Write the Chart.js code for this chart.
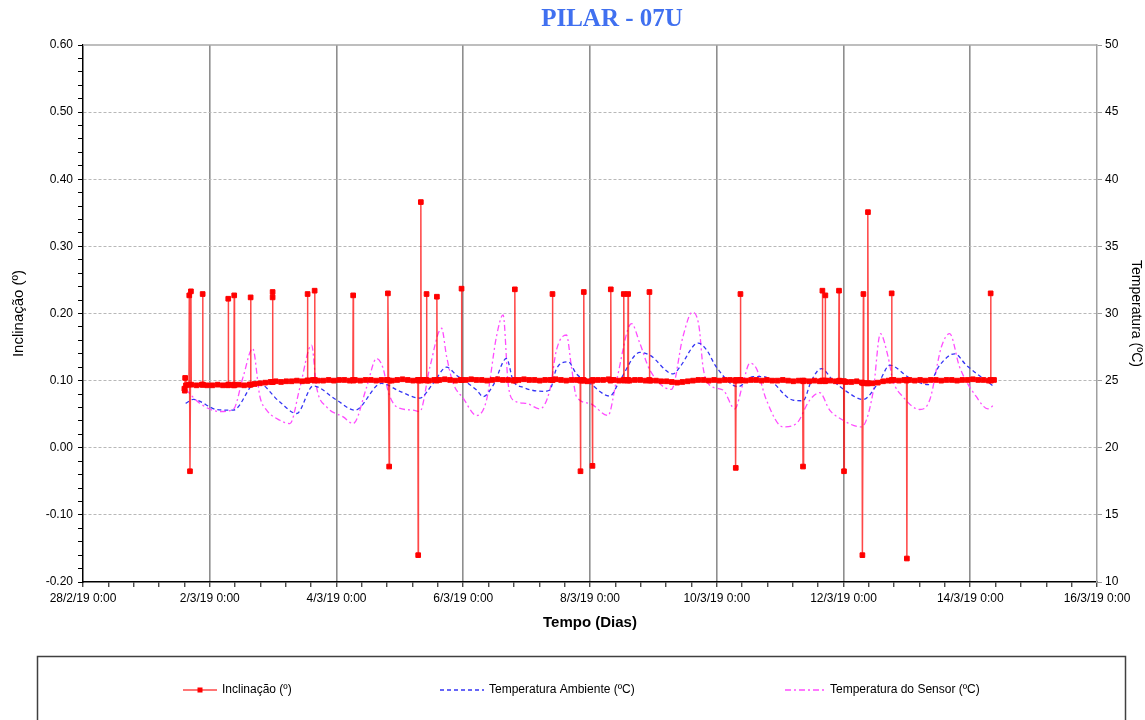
<!DOCTYPE html>
<html>
<head>
<meta charset="utf-8">
<title>PILAR - 07U</title>
<script src="https://cdn.jsdelivr.net/npm/chart.js@4.4.0/dist/chart.umd.min.js"></script>
<style>
  html, body { margin: 0; padding: 0; background: #fff; }
  #chart { display: block; }
</style>
</head>
<body>
<canvas id="chart" width="1145" height="720"></canvas>
<script>
// x values are days since 28/2/19 0:00
const xTickLabels = ['28/2/19 0:00', '2/3/19 0:00', '4/3/19 0:00', '6/3/19 0:00', '8/3/19 0:00',
  '10/3/19 0:00', '12/3/19 0:00', '14/3/19 0:00', '16/3/19 0:00'];

// Inclinação: regular readings every 2 h starting at day 1.625
const incStart = 1.625;
const incStep = 1 / 12;
const incBase = [
  0.093, 0.094, 0.093, 0.094, 0.093, 0.093, 0.094, 0.093, 0.094, 0.093, 0.094, 0.093, 0.094, 0.095,
  0.096, 0.097, 0.098, 0.099, 0.098, 0.099, 0.099, 0.100, 0.099,
  0.100, 0.101, 0.100, 0.100, 0.101, 0.100, 0.101, 0.101, 0.100, 0.101, 0.100, 0.101,
  0.101, 0.100, 0.101, 0.101, 0.100, 0.101, 0.102, 0.101, 0.100, 0.101, 0.101, 0.100,
  0.101, 0.101, 0.102, 0.101, 0.100, 0.101, 0.101, 0.102, 0.101, 0.101, 0.100, 0.101,
  0.102, 0.101, 0.101, 0.100, 0.101, 0.102, 0.101, 0.101, 0.100, 0.101, 0.101, 0.102,
  0.101, 0.100, 0.101, 0.101, 0.100, 0.099, 0.100, 0.101, 0.101, 0.102, 0.101, 0.100,
  0.101, 0.100, 0.101, 0.101, 0.100, 0.100, 0.100, 0.099, 0.099, 0.098, 0.097, 0.098,
  0.099, 0.100, 0.101, 0.101, 0.100, 0.101, 0.100, 0.101, 0.101, 0.100, 0.101, 0.100,
  0.101, 0.101, 0.100, 0.101, 0.100, 0.100, 0.101, 0.100, 0.099, 0.100, 0.100, 0.099,
  0.100, 0.099, 0.100, 0.100, 0.099, 0.099, 0.098, 0.098, 0.099, 0.097, 0.096, 0.096,
  0.097, 0.099, 0.100, 0.101, 0.100, 0.101, 0.101, 0.100, 0.101, 0.100, 0.101, 0.101,
  0.100, 0.101, 0.101, 0.100, 0.101, 0.101, 0.102, 0.101, 0.101, 0.100, 0.101
];
// irregular readings: spikes with the readings just before / after them
const incEventT = [
  1.600, 1.606, 1.612,
  1.672, 1.677, 1.688, 1.703,
  1.883, 1.888, 1.893,
  2.287, 2.292, 2.297,
  2.381, 2.386, 2.391,
  2.640, 2.645, 2.650,
  2.987, 2.992, 2.992, 2.997,
  3.539, 3.544, 3.549,
  3.650, 3.655, 3.660,
  4.258, 4.263, 4.268,
  4.806, 4.811, 4.831, 4.836,
  5.284, 5.289, 5.294,
  5.326, 5.331, 5.336,
  5.416, 5.421, 5.426,
  5.579, 5.584, 5.589,
  5.968, 5.973, 5.978,
  6.809, 6.814, 6.819,
  7.403, 7.408, 7.413,
  7.845, 7.850, 7.855,
  7.897, 7.902, 7.907,
  8.034, 8.039, 8.044,
  8.323, 8.328, 8.333,
  8.528, 8.533, 8.538,
  8.596, 8.601, 8.606,
  8.933, 8.938, 8.943,
  10.295, 10.300, 10.305,
  10.369, 10.374, 10.379,
  11.356, 11.361, 11.366,
  11.662, 11.667, 11.672,
  11.709, 11.714, 11.719,
  11.924, 11.929, 11.934,
  12.003, 12.008, 12.013,
  12.293, 12.298, 12.314, 12.319,
  12.381, 12.386, 12.391,
  12.755, 12.760, 12.765,
  12.995, 13.000, 13.005,
  14.317, 14.322, 14.327
];
const incEventV = [
  0.088, 0.085, 0.104,
  0.094, 0.227, -0.035, 0.233,
  0.094, 0.229, 0.094,
  0.093, 0.222, 0.094,
  0.094, 0.227, 0.093,
  0.094, 0.224, 0.094,
  0.098, 0.224, 0.232, 0.098,
  0.100, 0.229, 0.100,
  0.100, 0.234, 0.101,
  0.101, 0.227, 0.100,
  0.101, 0.230, -0.028, 0.100,
  0.101, -0.160, 0.100,
  0.101, 0.366, 0.100,
  0.101, 0.229, 0.100,
  0.100, 0.225, 0.101,
  0.101, 0.237, 0.101,
  0.101, 0.236, 0.100,
  0.101, 0.229, 0.101,
  0.100, -0.035, 0.101,
  0.101, 0.232, 0.100,
  0.100, -0.027, 0.101,
  0.100, 0.236, 0.101,
  0.101, 0.229, 0.100,
  0.100, 0.229, 0.101,
  0.101, 0.232, 0.100,
  0.100, -0.030, 0.101,
  0.100, 0.229, 0.101,
  0.100, -0.028, 0.099,
  0.100, 0.234, 0.100,
  0.099, 0.227, 0.100,
  0.099, 0.234, 0.100,
  0.099, -0.035, 0.099,
  0.097, -0.160, 0.229, 0.096,
  0.096, 0.351, 0.096,
  0.100, 0.230, 0.101,
  0.100, -0.165, 0.101,
  0.101, 0.230, 0.100
];

// Temperatura Ambiente (ºC)
const ambT = [1.62, 1.740, 2.109, 2.371, 2.740, 3.107, 3.371, 3.632, 4.002, 4.290, 4.711, 5.000, 5.315,
  5.525, 5.737, 5.894, 6.210, 6.314, 6.472, 6.683, 6.787, 6.945, 7.260, 7.366, 7.472, 7.655, 7.787,
  7.997, 8.312, 8.470, 8.785, 8.943, 9.311, 9.416, 9.705, 9.838, 9.995, 10.336, 10.572, 10.730,
  11.203, 11.361, 11.494, 11.651, 11.834, 12.046, 12.308, 12.571, 12.729, 13.044, 13.333, 13.517,
  13.754, 13.938, 14.375];
const ambV = [23.3, 23.6, 22.85, 22.8, 24.9, 23.4, 22.55, 24.6, 23.55, 22.8, 24.8, 24.2, 23.7,
  24.8, 26.0, 25.4, 24.3, 23.8, 24.65, 26.65, 25.0, 24.5, 24.2, 24.3, 25.9, 26.4, 25.5,
  24.8, 23.85, 25.0, 27.1, 26.9, 25.5, 26.0, 27.8, 27.3, 26.0, 24.55, 25.3, 25.3,
  23.55, 23.5, 25.0, 25.9, 25.0, 24.2, 23.6, 25.0, 26.15, 25.2, 24.7, 26.15,
  27.0, 26.15, 24.55];

// Temperatura do Sensor (ºC)
const senT = [1.62, 1.845, 2.161, 2.371, 2.528, 2.677, 2.792, 2.897, 3.107, 3.265, 3.423, 3.607, 3.686,
  3.844, 4.106, 4.263, 4.475, 4.632, 4.737, 4.815, 4.948, 5.210, 5.315, 5.473, 5.658, 5.737, 5.841,
  5.998, 6.210, 6.367, 6.525, 6.629, 6.708, 6.787, 6.998, 7.208, 7.366, 7.472, 7.629, 7.708, 7.787,
  7.997, 8.285, 8.418, 8.655, 8.785, 8.943, 9.285, 9.468, 9.617, 9.721, 9.784, 9.890, 10.099, 10.284,
  10.415, 10.520, 10.626, 10.784, 11.046, 11.257, 11.467, 11.625, 11.782, 11.940, 12.282, 12.465,
  12.582, 12.702, 12.781, 12.938, 13.202, 13.360, 13.544, 13.675, 13.833, 14.096, 14.279, 14.375];
const senV = [24.35, 23.3, 22.7, 22.85, 25.3, 27.4, 23.8, 22.8, 22.05, 21.8, 24.5, 27.65, 24.5,
  23.05, 22.3, 21.8, 24.5, 26.65, 25.9, 24.2, 23.05, 22.8, 22.7, 26.0, 28.9, 26.8, 24.8,
  23.7, 22.4, 23.55, 28.3, 29.9, 24.8, 23.55, 23.3, 22.9, 24.3, 27.3, 28.4, 26.0, 23.8,
  23.3, 22.4, 25.0, 29.25, 27.8, 25.8, 24.35, 28.3, 30.1, 29.0, 26.0, 24.65, 24.3, 22.9,
  24.8, 26.3, 25.9, 23.55, 21.55, 21.8, 23.55, 24.1, 22.8, 22.2, 21.55, 24.1,
  28.5, 26.8, 25.0, 23.8, 22.85, 23.55, 27.5, 28.5, 26.0, 23.8, 22.9, 23.2];

const chartTitle = 'PILAR - 07U';

const incPoints = incBase.map((v, i) => ({ x: incStart + i * incStep, y: v }))
  .concat(incEventT.map((t, i) => ({ x: t, y: incEventV[i] })))
  .sort((a, b) => a.x - b.x);
const ambPoints = ambT.map((t, i) => ({ x: t, y: ambV[i] }));
const senPoints = senT.map((t, i) => ({ x: t, y: senV[i] }));

const isMult = (v, m) => Math.abs(v / m - Math.round(v / m)) < 1e-6;

Chart.defaults.font.family = "'Liberation Sans', Arial, sans-serif";
Chart.defaults.color = '#000';

// title, top frame line and boxed legend like the original export
const frameLegend = {
  id: 'frameLegend',
  afterDraw(chart) {
    const { ctx, chartArea } = chart;
    ctx.save();
    ctx.fillStyle = '#4070f0';
    ctx.font = "bold 25px 'Liberation Serif', 'Times New Roman', serif";
    ctx.textAlign = 'center';
    ctx.textBaseline = 'middle';
    ctx.fillText(chartTitle, 612, 20);

    ctx.strokeStyle = '#a8a8a8';
    ctx.lineWidth = 1.5;
    ctx.beginPath();
    ctx.moveTo(chartArea.left, chartArea.top);
    ctx.lineTo(chartArea.right, chartArea.top);
    ctx.stroke();

    ctx.strokeStyle = '#404040';
    ctx.lineWidth = 1.5;
    ctx.strokeRect(37.5, 656.5, 1088, 80);

    const itemX = [183, 440, 785];
    const lineLen = [34, 44, 40];
    const y = 690;
    ctx.font = "12px 'Liberation Sans', Arial, sans-serif";
    ctx.textAlign = 'left';
    chart.data.datasets.forEach((ds, i) => {
      const x = itemX[i];
      ctx.strokeStyle = ds.borderColor;
      ctx.lineWidth = ds.borderWidth;
      ctx.setLineDash(ds.borderDash || []);
      ctx.beginPath();
      ctx.moveTo(x, y);
      ctx.lineTo(x + lineLen[i], y);
      ctx.stroke();
      ctx.setLineDash([]);
      if (ds.pointRadius > 0) {
        ctx.fillStyle = ds.pointBackgroundColor;
        ctx.fillRect(x + lineLen[i] / 2 - 2.5, y - 2.5, 5, 5);
      }
      ctx.fillStyle = '#000';
      ctx.fillText(ds.label, x + lineLen[i] + 5, y);
    });
    ctx.restore();
  }
};

new Chart(document.getElementById('chart'), {
  type: 'line',
  data: {
    datasets: [{
      label: 'Inclinação (º)',
      data: incPoints,
      yAxisID: 'y',
      borderColor: 'rgba(255, 0, 0, 0.72)',
      borderWidth: 1.5,
      pointStyle: 'rect',
      pointRadius: 3.3,
      pointBorderWidth: 1,
      pointBackgroundColor: '#ff0000',
      pointBorderColor: '#ff0000',
      tension: 0
    }, {
      label: 'Temperatura Ambiente (ºC)',
      data: ambPoints,
      yAxisID: 'y2',
      borderColor: '#3535f5',
      borderWidth: 1.3,
      borderDash: [4, 3],
      pointRadius: 0,
      cubicInterpolationMode: 'monotone'
    }, {
      label: 'Temperatura do Sensor (ºC)',
      data: senPoints,
      yAxisID: 'y2',
      borderColor: '#ff4cff',
      borderWidth: 1.3,
      borderDash: [6, 3, 2, 3],
      pointRadius: 0,
      cubicInterpolationMode: 'monotone'
    }]
  },
  options: {
    responsive: false,
    animation: false,
    layout: { padding: { left: 0, right: 0, top: 45, bottom: 78 } },
    plugins: {
      legend: { display: false },
      tooltip: { enabled: false },
      title: { display: false }
    },
    scales: {
      x: {
        type: 'linear',
        min: 0,
        max: 16,
        ticks: {
          stepSize: 0.4,
          autoSkip: false,
          maxRotation: 0,
          padding: 4,
          font: { size: 12 },
          callback: v => isMult(v, 2) ? xTickLabels[Math.round(v / 2)] : ''
        },
        grid: {
          color: c => (c.tick && isMult(c.tick.value, 2) && c.tick.value > 0 && c.tick.value < 16) ? '#8e8e8e' : 'rgba(0,0,0,0)',
          lineWidth: 1.6,
          tickColor: '#000',
          tickWidth: 1,
          tickLength: 5
        },
        border: { color: '#000', width: 1.5 },
        title: {
          display: true,
          text: 'Tempo (Dias)',
          font: { size: 15, weight: 'bold' },
          padding: { top: 0, bottom: 10 }
        },
        afterFit: s => { s.height = 60; }
      },
      y: {
        position: 'left',
        min: -0.2,
        max: 0.6,
        ticks: {
          stepSize: 0.02,
          autoSkip: false,
          padding: 5,
          font: { size: 12 },
          callback: v => isMult(v, 0.1) ? v.toFixed(2) : ''
        },
        grid: {
          color: c => (c.tick && isMult(c.tick.value, 0.1) && c.tick.value > -0.19 && c.tick.value < 0.59) ? '#b8b8b8' : 'rgba(0,0,0,0)',
          lineWidth: 1,
          tickColor: '#000',
          tickWidth: 1,
          tickLength: 5
        },
        border: { color: '#000', width: 1.5, dash: [3, 2] },
        title: {
          display: true,
          text: 'Inclinação (º)',
          font: { size: 15 },
          padding: { top: 10, bottom: 0 }
        },
        afterFit: s => { s.width = 83; }
      },
      y2: {
        position: 'right',
        min: 10,
        max: 50,
        ticks: { stepSize: 5, padding: 3, font: { size: 12 } },
        grid: { drawOnChartArea: false, tickColor: '#999', tickLength: 5 },
        border: { color: '#a0a0a0', width: 1.5 },
        title: {
          display: true,
          text: 'Temperatura (ºC)',
          font: { size: 14, lineHeight: 1 },
          padding: { top: 2, bottom: 0 }
        },
        afterFit: s => { s.width = 48; }
      }
    }
  },
  plugins: [frameLegend]
});
</script>
</body>
</html>
